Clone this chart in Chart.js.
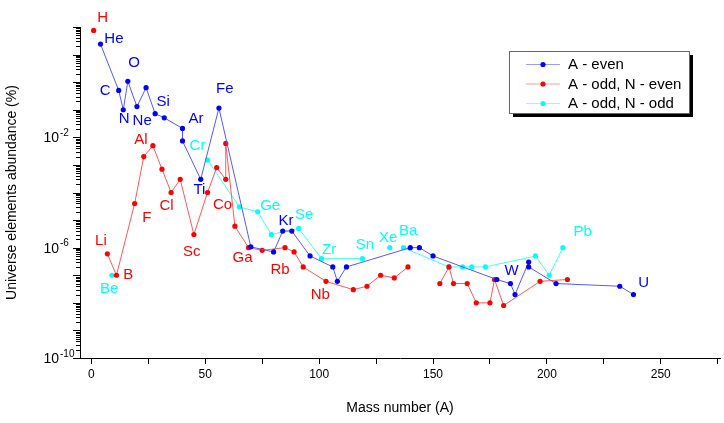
<!DOCTYPE html>
<html>
<head>
<meta charset="utf-8">
<script src="https://cdn.jsdelivr.net/npm/chart.js@4.4.1/dist/chart.umd.min.js"></script>
<style>
  html, body { margin: 0; padding: 0; background: #fff; }
  #wrap { width: 724px; height: 423px; }
</style>
</head>
<body>
<div id="wrap"><canvas id="chartAbundance" width="724" height="423"></canvas></div>
<script>
// mass number A and abundance (%) for each group; null = break in the line
const evenA   = [4, 12, 14, 16, 20, 24, 28, 32, 40, 40, 48, 56, 70, 80, 84, 88, 96, 106, 108, 112, 140, 144, 150, 178, 184, 186, 192, 192, 204, 232, 238];
const evenVal = [24, 0.5, 0.1, 1.07, 0.13, 0.63, 0.072, 0.051, 0.021, 0.0074, 3e-4, 0.115, 1.07e-6, 7e-7, 4e-6, 4e-6, 5e-7, 2e-7, 6e-8, 2e-7, 1e-6, 1e-6, 5e-7, 7e-8, 5e-8, 2e-8, 3e-7, 2e-7, 5e-8, 4e-8, 2e-8];

const oddEvenA   = [1, null, 7, 11, 19, 23, 27, 31, 35, 39, 45, 51, 55, 59, 59, 63, 69, 75, 85, 89, 93, 103, 115, 121, 127, 133, 139, null, 153, 157, 159, 165, 169, 175, 177, 181, 197, 209];
const oddEvenVal = [75, null, 6e-7, 1e-7, 4e-5, 2e-3, 5e-3, 7e-4, 1e-4, 3e-4, 3e-6, 1e-4, 8e-4, 3e-4, 6e-3, 6e-6, 1e-6, 8e-7, 1e-6, 7e-7, 2e-7, 6e-8, 3e-8, 4e-8, 1e-7, 8e-8, 2e-7, null, 5e-8, 2e-7, 5e-8, 5e-8, 1e-8, 1e-8, 7e-8, 8e-9, 6e-8, 7e-8];

const oddOddA   = [9, null, 51, 65, 73, 79, 91, 101, 119, null, 131, null, 137, 157, 163, 167, 173, 195, 201, 207];
const oddOddVal = [1e-7, null, 1.5e-3, 3e-5, 2e-5, 3e-6, 5e-6, 4e-7, 4e-7, null, 1e-6, null, 1e-6, 2e-7, 2e-7, 2e-7, 2e-7, 5e-7, 1e-7, 1e-6];

const seriesNames = ['A - even', 'A - odd, N - even', 'A - odd, N - odd'];

// element name labels (anchored in data coordinates), group = series index
const elemNames = ['H', 'He', 'O', 'C', 'N', 'Ne', 'Si', 'Ar', 'Fe', 'Al', 'Cr', 'Ti', 'Cl', 'F', 'Co', 'Sc', 'Li', 'B', 'Be', 'Ga', 'Ge', 'Kr', 'Se', 'Rb', 'Zr', 'Nb', 'Sn', 'Xe', 'Ba', 'W', 'Pb', 'U'];
const elemA     = [4.9, 9.9, 18.8, 6.1, 14.4, 22.3, 31.5, 45.9, 58.6, 21.7, 46.6, 47.4, 33.0, 24.3, 57.6, 44.1, 4.2, 16.2, 7.8, 66.4, 78.5, 85.4, 93.4, 82.8, 104.4, 100.5, 120.1, 130.3, 139.1, 184.5, 215.7, 242.5];
const elemVal   = [220, 38, 5.1, 0.5, 0.045, 0.039, 0.19, 0.048, 0.55, 7.8e-3, 4.8e-3, 1.2e-4, 3.2e-5, 1.2e-5, 3.5e-5, 6.9e-7, 1.7e-6, 1.07e-7, 3.3e-8, 4.1e-7, 3.2e-5, 9.3e-6, 1.5e-5, 1.6e-7, 8.1e-7, 1.9e-8, 1.3e-6, 2.2e-6, 4.1e-6, 1.4e-7, 3.9e-6, 5.5e-8];
const elemGroup = [1, 0, 0, 0, 0, 0, 0, 0, 0, 1, 2, 0, 1, 1, 1, 1, 1, 1, 2, 1, 2, 0, 2, 1, 2, 1, 2, 2, 2, 0, 2, 0];

// x ticks (every 25, labelled every 50) and labelled decades on the y axis
const xTicks = [0, 25, 50, 75, 100, 125, 150, 175, 200, 225, 250, 275];
const yLabelExps = [-2, -6, -10];

const dotColors  = ['#0000ff', '#ff0000', '#00ffff'];
const lineColors = ['#5858ff', '#ff5858', '#40ffff'];

Chart.defaults.font.family = '"Liberation Sans", Arial, sans-serif';
Chart.defaults.color = '#000';

function toPoints(xs, ys) {
  return xs.map((x, i) => ({ x: x, y: ys[i] }));
}

function makeSet(i, xs, ys) {
  return {
    label: seriesNames[i],
    data: toPoints(xs, ys),
    borderColor: lineColors[i],
    backgroundColor: dotColors[i],
    pointBackgroundColor: dotColors[i],
    pointBorderColor: dotColors[i],
    pointBorderWidth: 0,
    pointRadius: 2.6,
    borderWidth: 1,
    spanGaps: false,
    tension: 0
  };
}

const extras = {
  id: 'extras',
  afterDraw(chart) {
    const ctx = chart.ctx;
    const xs = chart.scales.x;
    const ys = chart.scales.y;
    const left = chart.chartArea.left;
    ctx.save();

    // log ticks on the y axis
    ctx.strokeStyle = '#000';
    ctx.lineWidth = 1;
    for (let e = -10; e <= 2; e++) {
      for (let m = 1; m <= 9; m++) {
        const v = m * Math.pow(10, e);
        if (v > 100.0001) break;
        const py = Math.round(ys.getPixelForValue(v)) + 0.5;
        const len = m === 1 ? 7 : 4;
        ctx.beginPath();
        ctx.moveTo(left - len, py);
        ctx.lineTo(left, py);
        ctx.stroke();
      }
    }

    // y tick labels 10^n
    ctx.fillStyle = '#000';
    ctx.textBaseline = 'middle';
    yLabelExps.forEach(e => {
      const py = ys.getPixelForValue(Math.pow(10, e));
      ctx.font = '14px "Liberation Sans", Arial, sans-serif';
      ctx.textAlign = 'right';
      ctx.fillText('10', left - 21, py + 1);
      ctx.font = '10px "Liberation Sans", Arial, sans-serif';
      ctx.textAlign = 'left';
      ctx.fillText(String(e), left - 20, py - 4);
    });

    // element names
    ctx.font = '15px "Liberation Sans", Arial, sans-serif';
    ctx.textAlign = 'center';
    ctx.textBaseline = 'middle';
    elemNames.forEach((name, i) => {
      ctx.fillStyle = dotColors[elemGroup[i]];
      ctx.fillText(name, xs.getPixelForValue(elemA[i]), ys.getPixelForValue(elemVal[i]));
    });

    // legend box with drop shadow
    const bx = 509, by = 51, bw = 180, bh = 62;
    ctx.fillStyle = '#000';
    ctx.fillRect(bx + 4, by + 4, bw, bh);
    ctx.fillStyle = '#fff';
    ctx.fillRect(bx, by, bw, bh);
    ctx.strokeStyle = '#666';
    ctx.strokeRect(bx + 0.5, by + 0.5, bw, bh);
    ctx.font = '15px "Liberation Sans", Arial, sans-serif';
    ctx.textAlign = 'left';
    chart.data.datasets.forEach((ds, i) => {
      const ly = by + 13 + i * 19.5;
      ctx.strokeStyle = lineColors[i];
      ctx.globalAlpha = 0.6;
      ctx.beginPath();
      ctx.moveTo(526, ly + 0.5);
      ctx.lineTo(560, ly + 0.5);
      ctx.stroke();
      ctx.globalAlpha = 1;
      ctx.fillStyle = dotColors[i];
      ctx.beginPath();
      ctx.arc(543, ly + 0.5, 2.6, 0, Math.PI * 2);
      ctx.fill();
      ctx.fillStyle = '#000';
      ctx.fillText(ds.label, 568, ly + 1);
    });
    ctx.restore();
  }
};

const config = {
  type: 'line',
  data: {
    datasets: [
      makeSet(0, evenA, evenVal),
      makeSet(1, oddEvenA, oddEvenVal),
      makeSet(2, oddOddA, oddOddVal)
    ]
  },
  options: {
    responsive: false,
    animation: false,
    devicePixelRatio: 1,
    layout: {
      padding: { top: 27, right: 4, left: 0, bottom: 0 }
    },
    plugins: {
      legend: { display: false },
      tooltip: { enabled: false }
    },
    scales: {
      x: {
        type: 'linear',
        min: -5,
        max: 276,
        afterBuildTicks: s => { s.ticks = xTicks.map(v => ({ value: v })); },
        afterFit: s => { s.height = 65; },
        ticks: {
          autoSkip: false,
          maxRotation: 0,
          padding: 3,
          font: { size: 12 },
          callback: v => (v % 50 === 0 ? String(v) : '')
        },
        grid: {
          drawOnChartArea: false,
          drawTicks: true,
          tickLength: 6,
          color: '#000'
        },
        border: { color: '#000', width: 1 },
        title: {
          display: true,
          text: 'Mass number (A)',
          font: { size: 14 },
          padding: { top: 0, bottom: 6 }
        }
      },
      y: {
        type: 'logarithmic',
        min: 1e-10,
        max: 1e2,
        afterFit: s => { s.width = 80; },
        ticks: { display: false },
        grid: { drawOnChartArea: false, drawTicks: false },
        border: { color: '#000', width: 1 },
        title: {
          display: true,
          text: 'Universe elements abundance (%)',
          font: { size: 14 }
        }
      }
    }
  },
  plugins: [extras]
};

const chartAbundance = new Chart(document.getElementById('chartAbundance'), config);
</script>
</body>
</html>
